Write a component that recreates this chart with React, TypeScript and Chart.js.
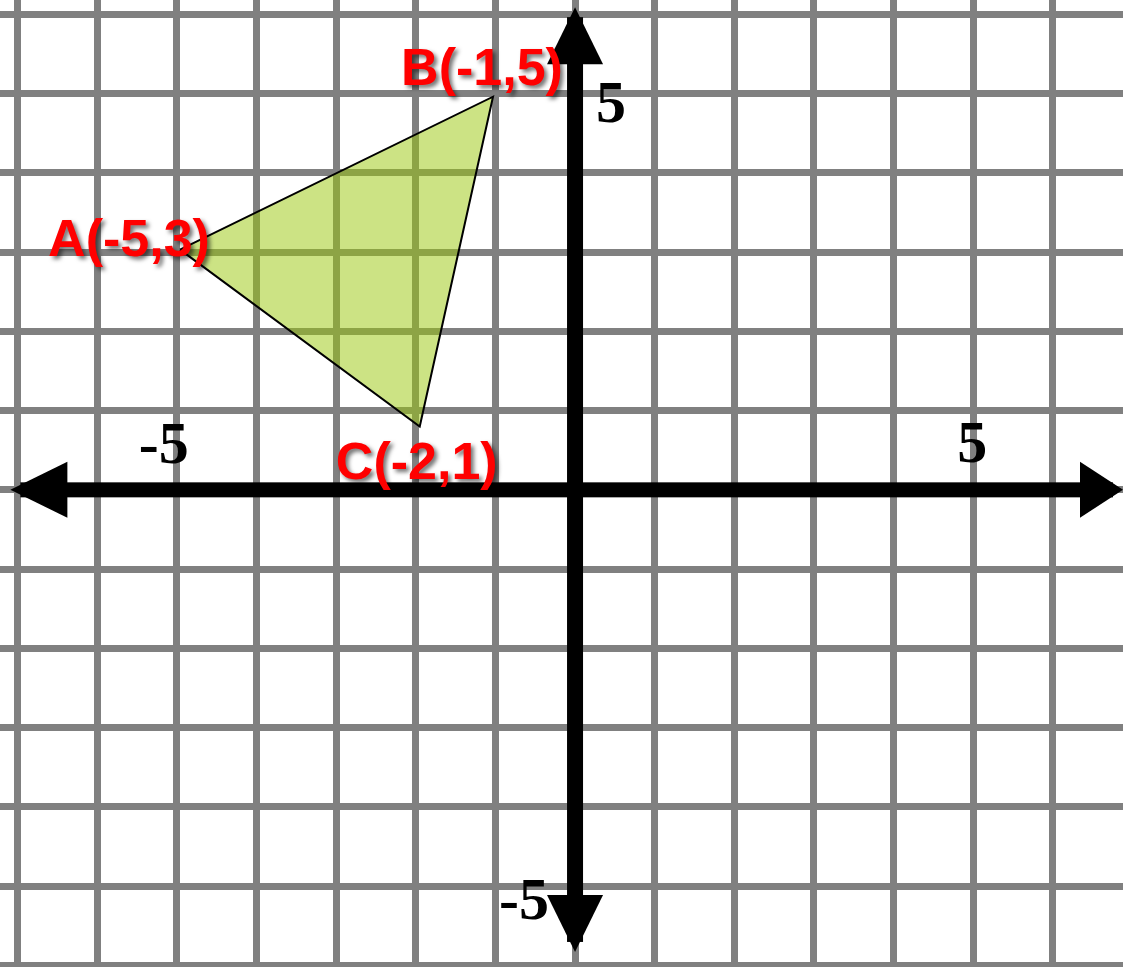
import React, { useEffect, useRef } from "react";
import { Chart, registerables } from "chart.js";

Chart.register(...registerables);

// Visible coordinate window (data units)
const xRange = [-7.22, 6.88];
const yRange = [-6.02, 6.18];

// Triangle vertices
const vertexNames = ["A", "B", "C"];
const vertexX = [-4.96, -1.03, -1.95];
const vertexY = [3.03, 4.96, 0.8];
const vertexLabels = ["A(-5,3)", "B(-1,5)", "C(-2,1)"];

// Axis tick labels
const xAxisTickValues = [-5, 5];
const xAxisTickLabels = ["-5", "5"];
const yAxisTickValues = [5, -5];
const yAxisTickLabels = ["5", "-5"];

// Axis arrow extents (data units)
const xAxisExtent = [-7.09, 6.88];
const yAxisExtent = [-5.83, 6.09];

// Styling (pixel offsets for label placement)
const vertexLabelOffsets = [
  [-51, 6],
  [-11, -12],
  [-3, 53],
];
const xTickOffsets = [
  [-13, -27],
  [-1, -28],
];
const yTickOffsets = [
  [36, 28],
  [-51, 33],
];

const axesPlugin = {
  id: "axesAndLabels",
  afterDatasetsDraw(chart: any) {
    const ctx = chart.ctx;
    const xs = chart.scales.x;
    const ys = chart.scales.y;
    const ox = xs.getPixelForValue(0);
    const oy = ys.getPixelForValue(0);
    const left = xs.getPixelForValue(xAxisExtent[0]);
    const right = xs.getPixelForValue(xAxisExtent[1]);
    const top = ys.getPixelForValue(yAxisExtent[1]);
    const bottom = ys.getPixelForValue(yAxisExtent[0]);
    const L = 57;
    const H = 28;
    ctx.save();
    ctx.fillStyle = "#000";
    // horizontal shaft
    ctx.fillRect(left + 10, oy - 7.5, right - left - 20, 15);
    // vertical shaft
    ctx.fillRect(ox - 8, top + 10, 16, bottom - top - 20);
    // arrowheads
    const tri = (pts: number[][]) => {
      ctx.beginPath();
      ctx.moveTo(pts[0][0], pts[0][1]);
      ctx.lineTo(pts[1][0], pts[1][1]);
      ctx.lineTo(pts[2][0], pts[2][1]);
      ctx.closePath();
      ctx.fill();
    };
    tri([[left, oy], [left + L, oy - H], [left + L, oy + H]]);
    tri([[right, oy], [right - L + 14, oy - H], [right - L + 14, oy + H]]);
    tri([[ox, top], [ox - H, top + L], [ox + H, top + L]]);
    tri([[ox, bottom], [ox - H, bottom - L], [ox + H, bottom - L]]);

    // tick labels
    ctx.font = "bold 60px 'Liberation Serif', 'Times New Roman', serif";
    ctx.textAlign = "center";
    ctx.textBaseline = "alphabetic";
    xAxisTickValues.forEach((v, i) => {
      ctx.fillText(
        xAxisTickLabels[i],
        xs.getPixelForValue(v) + xTickOffsets[i][0],
        oy + xTickOffsets[i][1]
      );
    });
    yAxisTickValues.forEach((v, i) => {
      ctx.fillText(
        yAxisTickLabels[i],
        ox + yTickOffsets[i][0],
        ys.getPixelForValue(v) + yTickOffsets[i][1]
      );
    });

    // vertex labels
    ctx.font = "bold 52px 'Liberation Sans', Arial, sans-serif";
    ctx.fillStyle = "#ff0000";
    ctx.shadowColor = "rgba(0,0,0,0.55)";
    ctx.shadowOffsetX = 3;
    ctx.shadowOffsetY = 3;
    ctx.shadowBlur = 4;
    vertexLabels.forEach((t, i) => {
      ctx.fillText(
        t,
        xs.getPixelForValue(vertexX[i]) + vertexLabelOffsets[i][0],
        ys.getPixelForValue(vertexY[i]) + vertexLabelOffsets[i][1]
      );
    });
    ctx.restore();
  },
};

export default function App() {
  const ref = useRef<HTMLCanvasElement | null>(null);
  useEffect(() => {
    document.body.style.margin = "0";
    const pts = vertexNames.map((_, i) => ({ x: vertexX[i], y: vertexY[i] }));
    pts.push({ x: vertexX[0], y: vertexY[0] });
    const chart = new Chart(ref.current as HTMLCanvasElement, {
      type: "scatter",
      data: {
        datasets: [
          {
            label: "Triangle ABC",
            data: pts,
            showLine: true,
            fill: "shape",
            backgroundColor: "rgba(153,199,9,0.5)",
            borderColor: "#000",
            borderWidth: 2,
            pointRadius: 0,
            tension: 0,
          } as any,
        ],
      },
      options: {
        animation: false,
        responsive: false,
        layout: { padding: 0, autoPadding: false } as any,
        plugins: {
          legend: { display: false },
          tooltip: { enabled: false },
        },
        scales: {
          x: {
            type: "linear",
            min: xRange[0],
            max: xRange[1],
            ticks: { display: false, stepSize: 1, includeBounds: false },
            grid: { color: "#808080", lineWidth: 7, drawTicks: false },
            border: { display: false },
          },
          y: {
            type: "linear",
            min: yRange[0],
            max: yRange[1],
            ticks: { display: false, stepSize: 1, includeBounds: false },
            grid: { color: "#808080", lineWidth: 7, drawTicks: false },
            border: { display: false },
          },
        },
      },
      plugins: [axesPlugin],
    });
    return () => chart.destroy();
  }, []);
  return (
    <div style={{ position: "absolute", left: 0, top: 0, width: 1123, height: 967, background: "#fff" }}>
      <canvas ref={ref} width={1123} height={967} />
    </div>
  );
}
